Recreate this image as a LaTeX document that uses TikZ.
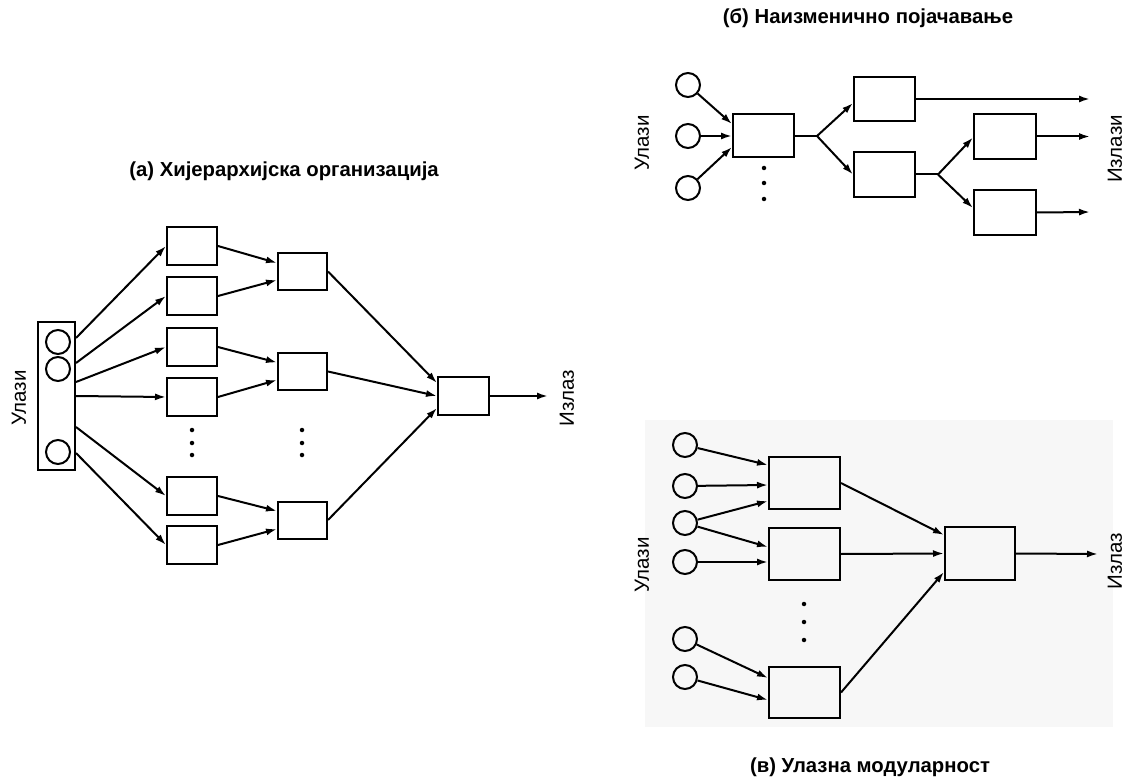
\documentclass[tikz,border=0pt]{standalone}
\usepackage{fontspec}
\setmainfont{Liberation Sans}
\usetikzlibrary{arrows.meta}
\begin{document}
\begin{tikzpicture}[x=1pt,y=-1pt,
  line width=2pt,
  unit/.style={draw,rectangle,inner sep=0pt},
  inp/.style={draw,circle,minimum size=24pt,inner sep=0pt},
  arr/.style={-{Latex[length=11pt,width=7pt]}},
  caption/.style={font=\bfseries\fontsize{20.3}{23}\selectfont},
  side/.style={font=\fontsize{20.5}{24}\selectfont,rotate=90},
  dot/.style={circle,fill,inner sep=0pt,minimum size=4.5pt}]
\useasboundingbox (0,0) rectangle (1128,778);

% ---------------- (a) hierarchical organisation ----------------
\node[caption] (ta) at (284,171) {(а) Хијерархијска организација};
\node[side] (ina) at (19,398) {Улази};
\node[unit,minimum width=37pt,minimum height=148pt] (bank) at (56.5,396) {};
\node[inp] at (58,342) {};
\node[inp] at (58,369) {};
\node[inp] at (58,452) {};

\foreach \n/\y in {1/246,2/296,3/347,4/397,5/496,6/545}
  \node[unit,minimum width=50pt,minimum height=38pt] (a\n) at (192,\y) {};
\foreach \n/\y in {A/271.5,B/371.5,C/520}
  \node[unit,minimum width=49pt,minimum height=37pt] (a\n) at (302.5,\y) {};
\node[unit,minimum width=51pt,minimum height=38pt] (aF) at (463.5,396) {};
\coordinate (aout) at (548,396);
\node[side] (outa) at (567,398) {Излаз};

\foreach \n/\s in {1/58,2/33,3/14,4/0,5/-31,6/-57}
  \draw[arr] ([yshift=\s pt]bank.east) -- (a\n.west);
\draw[arr] (a1.east) -- ([yshift=8.5pt]aA.west);
\draw[arr] (a2.east) -- ([yshift=-8.5pt]aA.west);
\draw[arr] (a3.east) -- ([yshift=9pt]aB.west);
\draw[arr] (a4.east) -- ([yshift=-8.5pt]aB.west);
\draw[arr] (a5.east) -- ([yshift=9pt]aC.west);
\draw[arr] (a6.east) -- ([yshift=-9pt]aC.west);
\draw[arr] (aA.east) -- ([yshift=13pt]aF.west);
\draw[arr] (aB.east) -- (aF.west);
\draw[arr] (aC.east) -- ([yshift=-12pt]aF.west);
\draw[arr] (aF.east) -- (aout);

\foreach \y in {430,443,455} {
  \node[dot] at (192,\y) {};
  \node[dot] at (302,\y) {};
}

% ---------------- (b) alternating amplification ----------------
\node[caption] (tb) at (868,18) {(б) Наизменично појачавање};
\node[side] (inb) at (642,143) {Улази};
\node[side] (outb) at (1115,149) {Излази};
\node[inp] (b1) at (688,85) {};
\node[inp] (b2) at (688,136) {};
\node[inp] (b3) at (688,188) {};
\node[unit,minimum width=61pt,minimum height=43pt] (bP) at (763.5,136) {};
\node[unit,minimum width=61pt,minimum height=44pt] (bQ1) at (884.5,99) {};
\node[unit,minimum width=61pt,minimum height=45pt] (bQ2) at (884.5,174.5) {};
\node[unit,minimum width=62pt,minimum height=45pt] (bR1) at (1005,136.5) {};
\node[unit,minimum width=62pt,minimum height=45pt] (bR2) at (1005,212.5) {};
\coordinate (bj1) at (817,136);
\coordinate (bj2) at (938,174.5);
\coordinate (bo1) at (1090,99);
\coordinate (bo2) at (1090,136.5);
\coordinate (bo3) at (1090,212);

\draw[arr] (b1) -- ([yshift=12pt]bP.west);
\draw[arr] (b2) -- (bP.west);
\draw[arr] (b3) -- ([yshift=-11pt]bP.west);
\draw (bP.east) -- (bj1);
\draw[arr] (bj1) -- ([yshift=-4pt]bQ1.west);
\draw[arr] (bj1) -- (bQ2.west);
\draw (bQ2.east) -- (bj2);
\draw[arr] (bj2) -- ([yshift=-1pt]bR1.west);
\draw[arr] (bj2) -- ([yshift=4.5pt]bR2.west);
\draw[arr] (bQ1.east) -- (bo1);
\draw[arr] (bR1.east) -- (bo2);
\draw[arr] (bR2.east) -- (bo3);
\foreach \y in {168,183,199}
  \node[dot] at (764,\y) {};

% ---------------- (c) input modularity ----------------
\fill[black!3] (645,420) rectangle (1113,727);
\node[caption] (tc) at (870,767) {(в) Улазна модуларност};
\node[side] (inc) at (642,565) {Улази};
\node[side] (outc) at (1115,561) {Излаз};
\foreach \n/\y in {1/445,2/486,3/523,4/562,5/639,6/677}
  \node[inp] (c\n) at (685,\y) {};
\node[unit,minimum width=71pt,minimum height=52pt] (cM1) at (804.5,483) {};
\node[unit,minimum width=71pt,minimum height=52pt] (cM2) at (804.5,554) {};
\node[unit,minimum width=71pt,minimum height=51pt] (cM3) at (804.5,692.5) {};
\node[unit,minimum width=70pt,minimum height=53pt] (cF) at (980,553.5) {};
\coordinate (cout) at (1098,554);

\draw[arr] (c1) -- ([yshift=18pt]cM1.west);
\draw[arr] (c2) -- ([yshift=-2pt]cM1.west);
\draw[arr] (c3) -- ([yshift=-18pt]cM1.west);
\draw[arr] (c3) -- ([yshift=7pt]cM2.west);
\draw[arr] (c4) -- ([yshift=-8pt]cM2.west);
\draw[arr] (c5) -- ([yshift=14.5pt]cM3.west);
\draw[arr] (c6) -- ([yshift=-7.5pt]cM3.west);
\draw[arr] (cM1.east) -- ([yshift=18.5pt]cF.west);
\draw[arr] (cM2.east) -- (cF.west);
\draw[arr] (cM3.east) -- ([yshift=-18.5pt]cF.west);
\draw[arr] (cF.east) -- (cout);
\foreach \y in {604,622,640}
  \node[dot] at (804,\y) {};
\end{tikzpicture}
\end{document}
